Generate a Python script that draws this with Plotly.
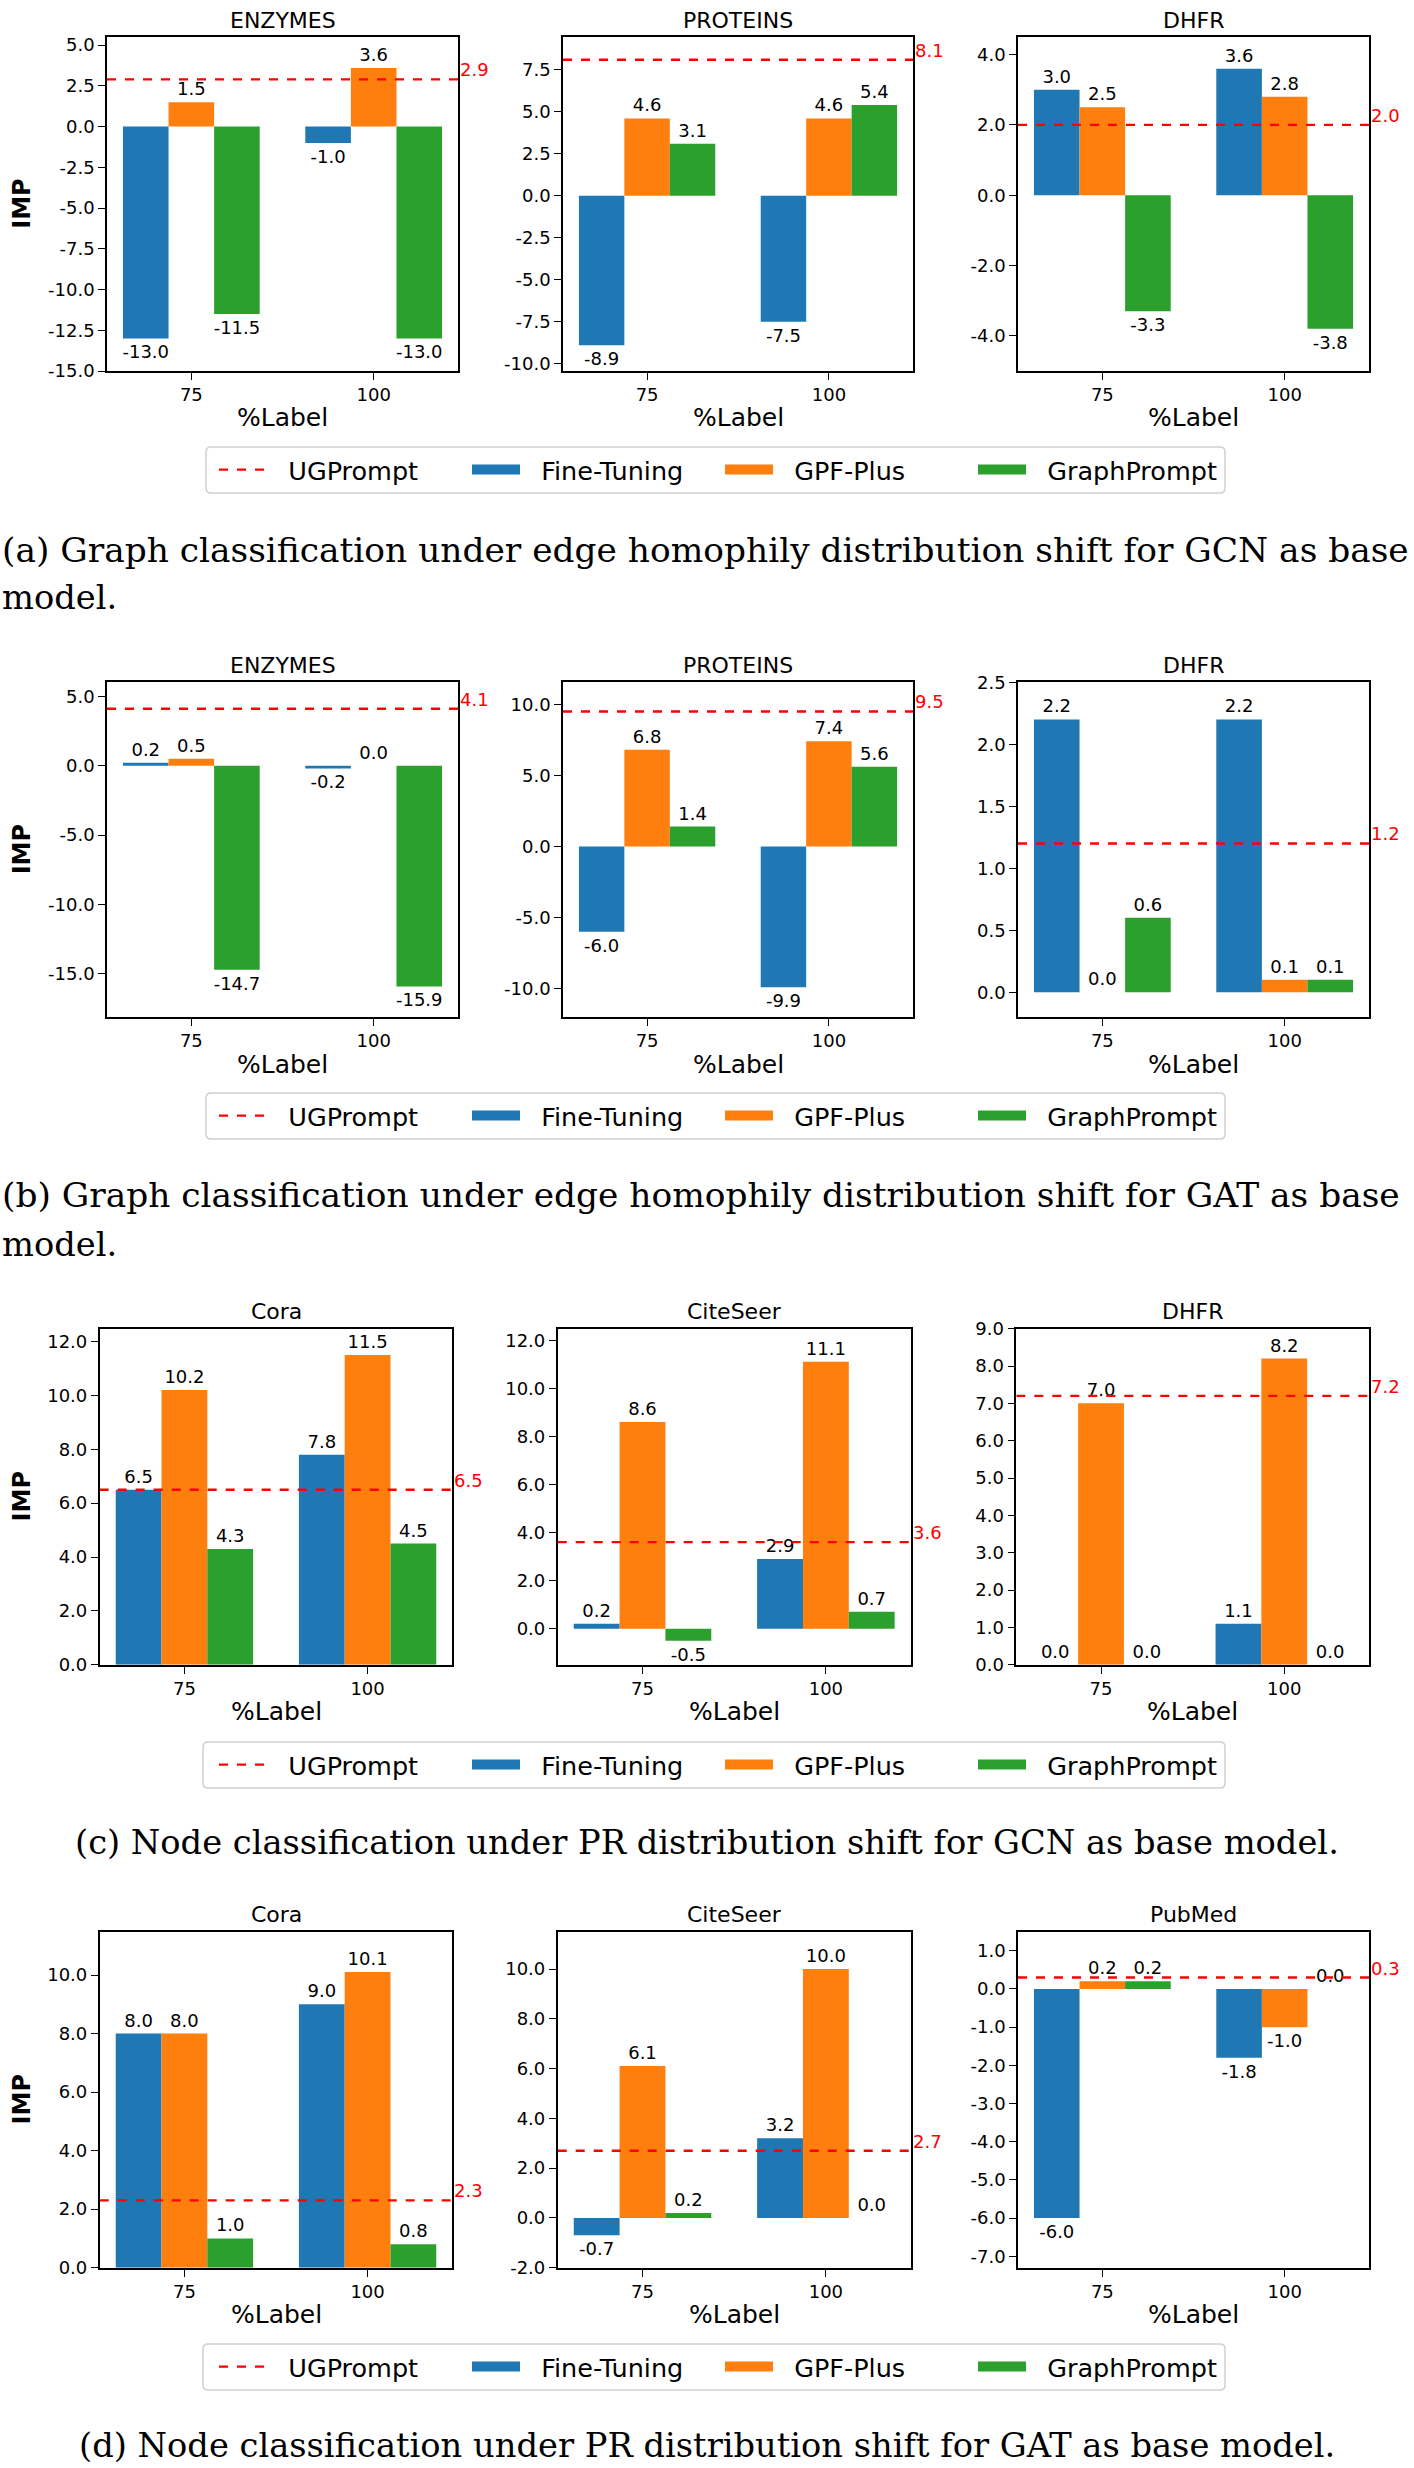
import math
import plotly.graph_objects as go

# ---------------- data ----------------
categories = ["75", "100"]
series_names = ["Fine-Tuning", "GPF-Plus", "GraphPrompt"]
ug_name = "UGPrompt"

row1_titles = ["ENZYMES", "PROTEINS", "DHFR"]
row1_finetuning = [[-13.0, -1.0], [-8.9, -7.5], [3.0, 3.6]]
row1_gpfplus = [[1.5, 3.6], [4.6, 4.6], [2.5, 2.8]]
row1_graphprompt = [[-11.5, -13.0], [3.1, 5.4], [-3.3, -3.8]]
row1_ugprompt = [2.9, 8.1, 2.0]

row2_titles = ["ENZYMES", "PROTEINS", "DHFR"]
row2_finetuning = [[0.2, -0.2], [-6.0, -9.9], [2.2, 2.2]]
row2_gpfplus = [[0.5, 0.0], [6.8, 7.4], [0.0, 0.1]]
row2_graphprompt = [[-14.7, -15.9], [1.4, 5.6], [0.6, 0.1]]
row2_ugprompt = [4.1, 9.5, 1.2]

row3_titles = ["Cora", "CiteSeer", "DHFR"]
row3_finetuning = [[6.5, 7.8], [0.2, 2.9], [0.0, 1.1]]
row3_gpfplus = [[10.2, 11.5], [8.6, 11.1], [7.0, 8.2]]
row3_graphprompt = [[4.3, 4.5], [-0.5, 0.7], [0.0, 0.0]]
row3_ugprompt = [6.5, 3.6, 7.2]

row4_titles = ["Cora", "CiteSeer", "PubMed"]
row4_finetuning = [[8.0, 9.0], [-0.7, 3.2], [-6.0, -1.8]]
row4_gpfplus = [[8.0, 10.1], [6.1, 10.0], [0.2, -1.0]]
row4_graphprompt = [[1.0, 0.8], [0.2, 0.0], [0.2, 0.0]]
row4_ugprompt = [2.3, 2.7, 0.3]

captions = [
    ["(a) Graph classification under edge homophily distribution shift for GCN as base", "model."],
    ["(b) Graph classification under edge homophily distribution shift for GAT as base", "model."],
    ["(c) Node classification under PR distribution shift for GCN as base model."],
    ["(d) Node classification under PR distribution shift for GAT as base model."],
]

rows = [
    (row1_titles, row1_finetuning, row1_gpfplus, row1_graphprompt, row1_ugprompt),
    (row2_titles, row2_finetuning, row2_gpfplus, row2_graphprompt, row2_ugprompt),
    (row3_titles, row3_finetuning, row3_gpfplus, row3_graphprompt, row3_ugprompt),
    (row4_titles, row4_finetuning, row4_gpfplus, row4_graphprompt, row4_ugprompt),
]

# ---------------- layout / style ----------------
W, H = 1414, 2468
colors = ["#1f77b4", "#ff7f0e", "#2ca02c"]
FONT = "DejaVu Sans"
TICK = 18
LEG = 25.5
GAP = "\u00a0\u00a0"

row_y = [(37, 371), (682.3, 1017), (1328.7, 1664.7), (1931.7, 2267.7)]
row_x = [
    [(107, 458), (563, 913), (1018, 1369)],
    [(107, 458), (563, 913), (1018, 1369)],
    [(99.7, 452.3), (557.7, 910.7), (1016.3, 1369)],
    [(99.7, 452.3), (557.7, 910.7), (1018, 1369)],
]
y_ranges = [
    [(-15, 5.5, 2.5), (-10.43, 9.45, 2.5), (-5, 4.5, 2)],
    [(-18.1, 6.0, 5), (-12.0, 11.55, 5), (-0.2, 2.5, 0.5)],
    [(0, 12.48, 2), (-1.5, 12.48, 2), (0, 9, 1)],
    [(0, 11.48, 2), (-2, 11.5, 2), (-7.3, 1.5, 1)],
]
legend_box = [  # x0, x1, ytop, ybot in px
    (206, 1225, 447, 493),
    (206, 1225, 1093, 1139),
    (203, 1225, 1742, 1788),
    (203, 1225, 2344, 2390),
]
caption_y = [[550, 597], [1195, 1244], [1842], [2445]]

# x range: matplotlib-like 5% margins around grouped bars
n_cat = len(categories)
group_w = 0.75
lo_data, hi_data = -group_w / 2, (n_cat - 1) + group_w / 2
pad = 0.05 * (hi_data - lo_data)
x_range = [lo_data - pad, hi_data + pad]

fig = go.Figure()
layout = dict(
    width=W, height=H, margin=dict(l=0, r=0, t=0, b=0, pad=0, autoexpand=False),
    paper_bgcolor="white", plot_bgcolor="white",
    barmode="group", bargap=0.25, bargroupgap=0.0,
    font=dict(family=FONT, color="black", size=TICK),
    annotations=[], shapes=[],
)


def fmt(v):
    s = f"{v:.1f}"
    return "0.0" if s == "-0.0" else s


def rounded_box(x0, x1, yt, yb, r=5):
    X0, X1 = x0 / W, x1 / W
    YT, YB = 1 - yt / H, 1 - yb / H
    rx, ry = r / W, r / H
    return (f"M{X0+rx},{YT} L{X1-rx},{YT} Q{X1},{YT} {X1},{YT-ry} "
            f"L{X1},{YB+ry} Q{X1},{YB} {X1-rx},{YB} L{X0+rx},{YB} "
            f"Q{X0},{YB} {X0},{YB+ry} L{X0},{YT-ry} Q{X0},{YT} {X0+rx},{YT} Z")


idx = 0
for r, (titles, ft, gpf, gp, ug) in enumerate(rows):
    legend_name = "legend" if r == 0 else f"legend{r+1}"
    for c in range(3):
        idx += 1
        xa = "x" if idx == 1 else f"x{idx}"
        ya = "y" if idx == 1 else f"y{idx}"
        x0, x1 = row_x[r][c]
        ytop, ybot = row_y[r]
        ylo, yhi, dt = y_ranges[r][c]
        tickvals = []
        v = math.ceil(ylo / dt - 1e-9) * dt
        while v <= yhi + 1e-9:
            tickvals.append(round(v, 6))
            v += dt
        axis_common = dict(
            showline=True, linecolor="black", linewidth=1.6, mirror=True,
            ticks="outside", ticklen=7, tickwidth=1.4, tickcolor="black",
            showgrid=False, zeroline=False, automargin=False,
            tickfont=dict(family=FONT, size=TICK, color="black"),
        )
        layout["xaxis" if idx == 1 else f"xaxis{idx}"] = dict(
            domain=[x0 / W, x1 / W], anchor=ya, range=x_range,
            tickmode="array", tickvals=list(range(n_cat)), ticktext=categories,
            **axis_common,
        )
        layout["yaxis" if idx == 1 else f"yaxis{idx}"] = dict(
            domain=[1 - ybot / H, 1 - ytop / H], anchor=xa, range=[ylo, yhi],
            tickmode="array", tickvals=tickvals, ticktext=[fmt(t) for t in tickvals],
            **axis_common,
        )
        show = c == 0
        # UGPrompt reference line
        fig.add_trace(go.Scatter(
            x=x_range, y=[ug[c], ug[c]], mode="lines", name=GAP + ug_name,
            line=dict(color="red", dash="dash", width=2.4),
            xaxis=xa, yaxis=ya, showlegend=show, legend=legend_name,
            hoverinfo="skip",
        ))
        for k, (name, vals) in enumerate(zip(series_names, (ft[c], gpf[c], gp[c]))):
            fig.add_trace(go.Bar(
                x=list(range(n_cat)), y=vals, name=name, legendgroup=name,
                marker=dict(color=colors[k], line=dict(width=0)),
                text=[fmt(v) for v in vals], textposition="outside",
                constraintext="none", cliponaxis=False,
                textfont=dict(family=FONT, size=TICK, color="black"),
                xaxis=xa, yaxis=ya, showlegend=False, legend=legend_name,
            ))
            if show:
                # legend swatch (wide patch like matplotlib)
                fig.add_trace(go.Scatter(
                    x=[None], y=[None], mode="lines", name=GAP + name, legendgroup=name,
                    line=dict(color=colors[k], width=17),
                    xaxis=xa, yaxis=ya, showlegend=True, legend=legend_name,
                ))
        # UG value label
        layout["annotations"].append(dict(
            x=1, xref=f"{xa} domain", y=ug[c], yref=ya, text=fmt(ug[c]),
            showarrow=False, xanchor="left", yanchor="bottom", xshift=0, yshift=-3,
            font=dict(family=FONT, size=TICK, color="red"),
        ))
        # subplot title
        layout["annotations"].append(dict(
            x=0.5, xref=f"{xa} domain", y=1, yref=f"{ya} domain", text=titles[c],
            showarrow=False, xanchor="center", yanchor="middle", yshift=17,
            font=dict(family=FONT, size=22, color="black"),
        ))
        # x axis title
        layout["annotations"].append(dict(
            x=0.5, xref=f"{xa} domain", y=0, yref=f"{ya} domain", text="%Label",
            showarrow=False, xanchor="center", yanchor="middle", yshift=-47,
            font=dict(family=FONT, size=25, color="black"),
        ))
        if c == 0:
            layout["annotations"].append(dict(
                x=21.7 / W, xref="paper", y=0.5, yref=f"{ya} domain", text="<b>IMP</b>",
                showarrow=False, xanchor="center", yanchor="middle", textangle=-90,
                font=dict(family=FONT, size=24, color="black"),
            ))
    bx0, bx1, byt, byb = legend_box[r]
    layout["shapes"].append(dict(
        type="path", xref="paper", yref="paper", path=rounded_box(bx0, bx1, byt, byb),
        line=dict(color="#d0d0d0", width=1.5), fillcolor="white", layer="below",
    ))
    layout[legend_name] = dict(
        orientation="h", x=214 / W, xanchor="left",
        y=1 - (byt + byb) / 2 / H, yanchor="middle",
        borderwidth=0, bgcolor="rgba(0,0,0,0)",
        font=dict(family=FONT, size=LEG, color="black"),
        itemwidth=48, entrywidth=190, traceorder="normal",
    )
    # captions
    lines = captions[r]
    for j, line in enumerate(lines):
        if len(lines) > 1:
            ann = dict(x=0, xanchor="left")
            size = 34.4 if j == 0 else 33.7
        else:
            ann = dict(x=0.5, xanchor="center")
            size = 33.7
        layout["annotations"].append(dict(
            xref="paper", yref="paper", y=1 - caption_y[r][j] / H, yanchor="middle",
            text=line, showarrow=False,
            font=dict(family="DejaVu Serif", size=size, color="black"), **ann,
        ))

fig.update_layout(**layout)
fig.write_html("out.html")
